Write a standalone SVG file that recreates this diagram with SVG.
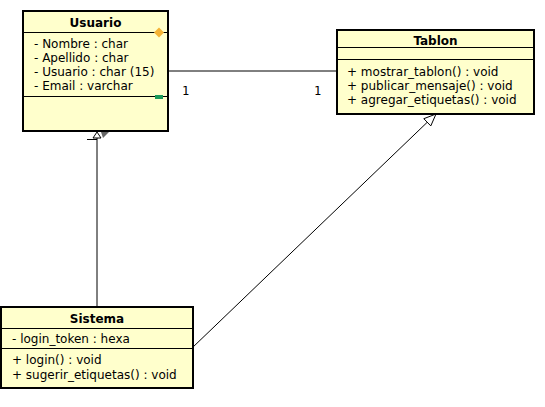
<svg xmlns="http://www.w3.org/2000/svg" width="545" height="407" viewBox="0 0 545 407">
<style>
.box{fill:#ffffcc;stroke:#000;stroke-width:2}
.sep{stroke:#000;stroke-width:1}
.t{font-family:"DejaVu Sans",sans-serif;font-size:12px;fill:#000}
.m{font-family:"DejaVu Sans Mono",monospace;font-size:12px;fill:#000}
.b{font-weight:bold;text-anchor:middle}
.c{fill:none;stroke:#000;stroke-width:1}
.h{fill:#fff;stroke:#000;stroke-width:1}
</style>
<rect width="545" height="407" fill="#fff"/>
<g id="connectors">
  <line class="c" x1="168" y1="71" x2="337" y2="71"/>
  <text class="m" x="182" y="95">1</text>
  <text class="m" x="314" y="95">1</text>
  <line class="c" x1="97" y1="307" x2="97" y2="138"/>
  <polygon class="h" points="97,132 93,138 101,138"/>
  <polygon fill="#666" points="101,132 109,132 103,138"/>
  <line class="c" x1="87" y1="139.5" x2="97" y2="139.5"/>
  <line class="c" x1="192" y1="348" x2="427" y2="122.5"/>
  <polygon class="h" points="436,114 430.8,125.9 423.8,118.7"/>
</g>
<g id="Usuario">
  <rect class="box" x="23" y="11" width="145" height="120"/>
  <line class="sep" x1="23" y1="32.5" x2="168" y2="32.5"/>
  <line class="sep" x1="23" y1="96.5" x2="168" y2="96.5"/>
  <polygon fill="#f5b335" points="159,27.5 164,32.5 159,37.5 154,32.5"/>
  <rect fill="#199a5b" x="155" y="95" width="8" height="4"/>
  <text class="t b" x="95.5" y="27">Usuario</text>
  <text class="t" x="34" y="48">- Nombre : char</text>
  <text class="t" x="34" y="62">- Apellido : char</text>
  <text class="t" x="34" y="76">- Usuario : char (15)</text>
  <text class="t" x="34" y="90">- Email : varchar</text>
</g>
<g id="Tablon">
  <rect class="box" x="337" y="30" width="197" height="84"/>
  <line class="sep" x1="337" y1="47.5" x2="534" y2="47.5"/>
  <line class="sep" x1="337" y1="59.5" x2="534" y2="59.5"/>
  <text class="t b" x="435.5" y="45">Tablon</text>
  <text class="t" x="347" y="76">+ mostrar_tablon() : void</text>
  <text class="t" x="347" y="90">+ publicar_mensaje() : void</text>
  <text class="t" x="347" y="104">+ agregar_etiquetas() : void</text>
</g>
<g id="Sistema">
  <rect class="box" x="1" y="307" width="192" height="81"/>
  <line class="sep" x1="1" y1="328.5" x2="193" y2="328.5"/>
  <line class="sep" x1="1" y1="348.5" x2="193" y2="348.5"/>
  <text class="t b" x="97" y="323">Sistema</text>
  <text class="t" x="12" y="343">- login_token : hexa</text>
  <text class="t" x="12" y="364">+ login() : void</text>
  <text class="t" x="12" y="379">+ sugerir_etiquetas() : void</text>
</g>
</svg>
